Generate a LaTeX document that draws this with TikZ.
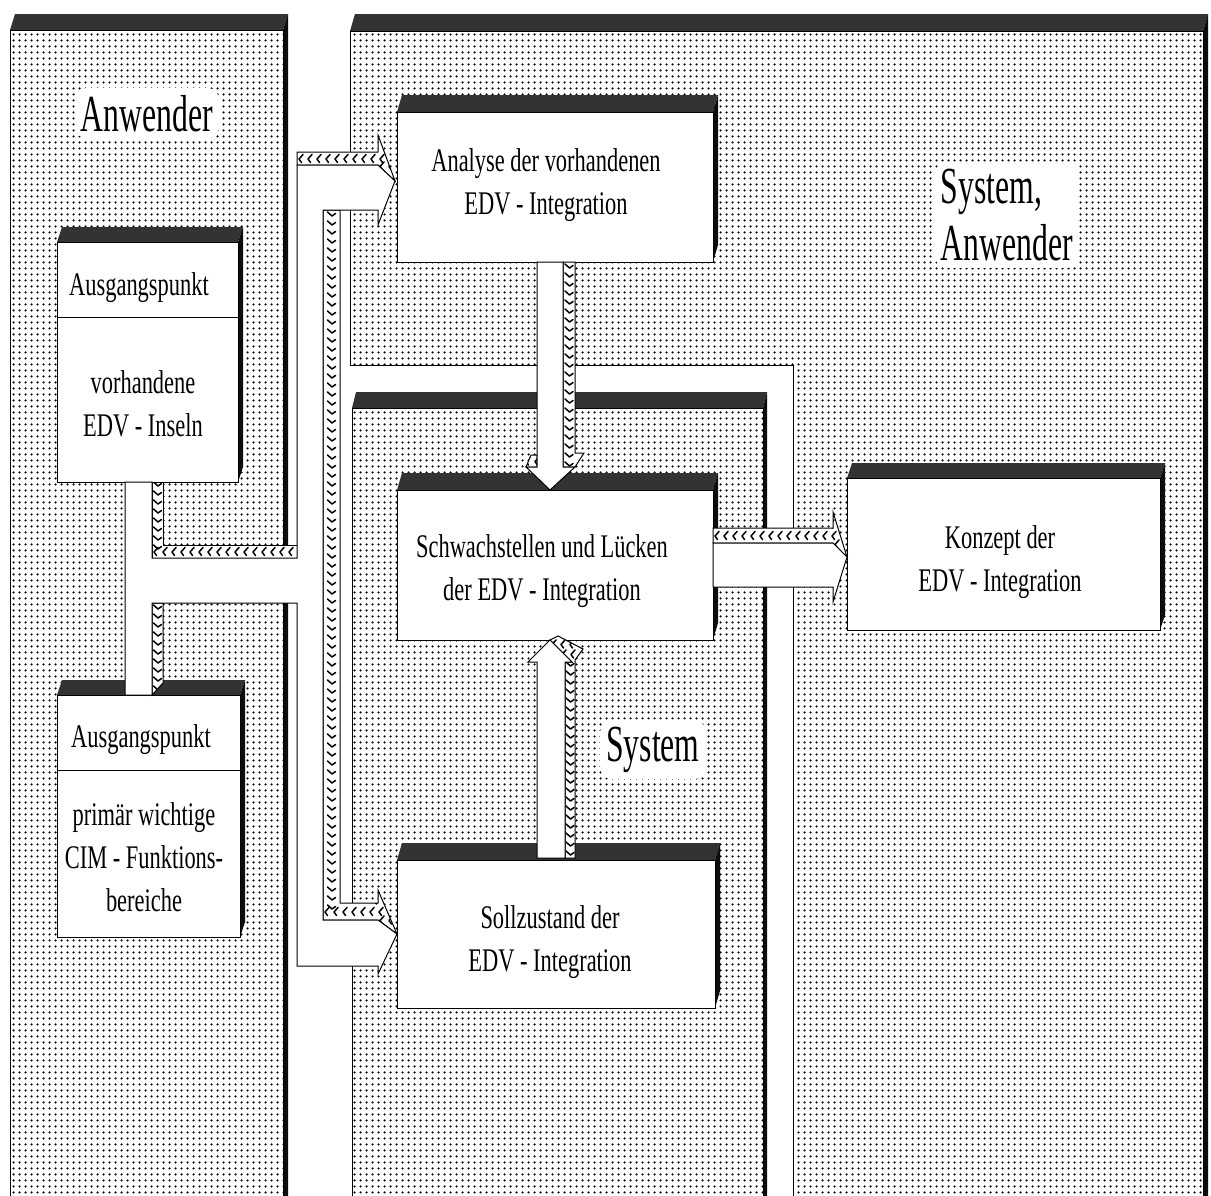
\documentclass[tikz,border=0pt]{standalone}
\usepackage{fontspec}
\setmainfont{Liberation Serif}
\newfontfamily\boxfamily{Liberation Serif}[FakeStretch=0.68]
\newfontfamily\labelfamily{Liberation Serif}[FakeStretch=0.61]
\usetikzlibrary{patterns,calc}

% fine dot screen used for the three areas
\pgfdeclarepatternformonly{stipple}{\pgfqpoint{0pt}{0pt}}{\pgfqpoint{5.5pt}{5.5pt}}{\pgfqpoint{5.5pt}{5.5pt}}{%
  \pgfpathcircle{\pgfqpoint{2.75pt}{2.75pt}}{1.35pt}\pgfusepath{fill}}

\tikzset{
  outline/.style={draw=black, line width=1pt, line join=miter},
  panelface/.style={outline, preaction={fill=white}, pattern=stipple},
  bandtop/.style={fill=black!80},
  bandside/.style={fill=black!95},
  boxface/.style={outline, fill=white, inner sep=0pt, outer sep=0pt, anchor=north west},
  pipe/.style={outline, fill=white},
  hatchstroke/.style={line width=1.5pt, line cap=round, line join=round},
  boxtext/.style={font=\boxfamily\fontsize{33}{43}\selectfont, align=center, inner sep=0pt},
  biglabel/.style={font=\labelfamily\fontsize{52}{57}\selectfont, align=left, fill=white,
    rounded corners=12pt, inner xsep=6pt, inner ysep=7pt},
}

% dark top band and right side of a raised block: left, top, right, bottom, shift, rise
\newcommand\extrude[6]{%
  \fill[bandtop] (#1,#2) -- ({#1+#5},{#2-#6}) -- ({#3+#5},{#2-#6}) -- (#3,#2) -- cycle;
  \fill[bandside] (#3,#2) -- ({#3+#5},{#2-#6}) -- ({#3+#5},{#4-#6}) -- (#3,#4) -- cycle;}

% row of small chevrons: from x #1 to x #2 on the line y #3
\newcommand\hmarks[3]{%
  \pgfmathtruncatemacro\hmcount{(#2-(#1))/9}%
  \foreach \k in {0,...,\hmcount}
    \draw[hatchstroke] ({#1+9*\k+6},{#3-4}) -- ({#1+9*\k+2},{#3+0.5}) -- ({#1+9*\k+4.5},{#3+4});}

% column of small chevrons: on the line x #1 from y #2 to y #3
\newcommand\vmarks[3]{%
  \pgfmathtruncatemacro\vmcount{(#3-(#2))/9}%
  \foreach \k in {0,...,\vmcount}
    \draw[hatchstroke] ({#1-4},{#2+9*\k+2}) -- ({#1+0.5},{#2+9*\k+6}) -- ({#1+4},{#2+9*\k+3.5});}

% hatched side face of a pipe: outline path, chevrons
\newcommand\hatched[2]{%
  \fill[white] #1;
  \begin{scope}\clip #1; #2\end{scope}
  \draw[outline] #1;}

\begin{document}
\begin{tikzpicture}[x=1pt,y=-1pt]
\useasboundingbox (0,0) rectangle (1211,1195);
\clip (0,0) rectangle (1211,1195);
\fill[white] (0,0) rectangle (1211,1195);

% ---------- areas ----------
\extrude{10}{30}{283}{1215}{5}{16}
\path[panelface] (10,30) rectangle (283,1215);
\extrude{350}{31}{1203}{1215}{5}{17}
\path[panelface] (350,31) -- (1203,31) -- (1203,1215) -- (793,1215) -- (793,365) -- (350,365) -- cycle;
\extrude{352}{408}{763}{1215}{4}{16}
\path[panelface] (352,408) rectangle (763,1215);

\node[biglabel, anchor=base] (anw) at (147,131) {Anwender};
\node[biglabel] (sysanw) at (1007,215) {System,\\Anwender};
\node[biglabel, anchor=base west] (sys) at (600,761) {System};

% ---------- boxes ----------
\extrude{57}{242}{238}{482}{5}{15}
\node[boxface, minimum width=181pt, minimum height=240pt] (ain) at (57,242) {};
\draw[outline] (57,317) -- (238,317);
\node[boxtext, anchor=base] (ainh) at (139,295) {Ausgangspunkt};
\node[boxtext] (aint) at (143,404) {vorhandene\\EDV - Inseln};

\extrude{57}{695}{240}{937}{5}{15}
\node[boxface, minimum width=183pt, minimum height=242pt] (prim) at (57,695) {};
\draw[outline] (57,770) -- (240,770);
\node[boxtext, anchor=base] (primh) at (141,747) {Ausgangspunkt};
\node[boxtext] (primt) at (144,857) {primär wichtige\\CIM - Funktions-\\bereiche};

\extrude{397}{112}{713}{262}{5}{17}
\node[boxface, minimum width=316pt, minimum height=150pt] (ana) at (397,112) {};
\node[boxtext] (anat) at (546,185) {Analyse der vorhandenen\\EDV - Integration};

\extrude{397}{490}{713}{640}{5}{17}
\node[boxface, minimum width=316pt, minimum height=150pt] (schw) at (397,490) {};
\node[boxtext] (schwt) at (542,571) {Schwachstellen und Lücken\\der EDV - Integration};

\extrude{397}{860}{715}{1008}{5}{17}
\node[boxface, minimum width=318pt, minimum height=148pt] (soll) at (397,860) {};
\node[boxtext] (sollt) at (550,942) {Sollzustand der\\EDV - Integration};

\extrude{847}{478}{1160}{630}{5}{15}
\node[boxface, minimum width=313pt, minimum height=152pt] (konz) at (847,478) {};
\node[boxtext] (konzt) at (1000,562) {Konzept der\\EDV - Integration};

% ---------- pipes ----------
% T piece below the upper left box
\hatched{(152,482) -- (163,482) -- (163,545) -- (297,545) -- (297,558) -- (152,558) -- cycle}
  {\vmarks{157.5}{480}{545}\hmarks{152}{297}{551.5}}
\hatched{(152,603) -- (163,603) -- (163,683) -- (152,695) -- cycle}
  {\vmarks{157.5}{603}{695}}
% upper branch into the analysis box
\hatched{(297,152) -- (378,152) -- (378,135) -- (395,181) -- (378,165) -- (297,165) -- cycle}
  {\hmarks{297}{378}{158.5}\hmarks{372}{395}{146}\hmarks{378}{395}{166}}
% side face of the vertical channel and lower branch
\hatched{(323,210) -- (340,210) -- (340,903) -- (378,903) -- (378,890) -- (397,934) -- (378,920) -- (323,920) -- cycle}
  {\vmarks{331.5}{210}{903}\hmarks{323}{378}{911.5}\hmarks{372}{397}{900}\hmarks{378}{397}{920}}
% front face of the whole channel
\path[pipe] (297,165) -- (378,165) -- (395,181) -- (378,225) -- (378,210) -- (323,210)
  -- (323,920) -- (378,920) -- (397,934) -- (378,974) -- (378,966) -- (297,966)
  -- (297,603) -- (152,603) -- (152,695) -- (125,695) -- (125,482) -- (152,482)
  -- (152,558) -- (297,558) -- cycle;

% analysis -> weak points
\hatched{(563,262) -- (575,262) -- (575,453) -- (584,453) -- (575,467) -- (563,467) -- cycle}
  {\vmarks{569}{262}{467}}
\hatched{(526,467) -- (531,455) -- (537,455) -- (537,467) -- cycle}
  {\hmarks{524}{540}{461}}
\path[pipe] (537,262) -- (563,262) -- (563,467) -- (575,467) -- (550,490) -- (526,467) -- (537,467) -- cycle;

% target state -> weak points
\hatched{(565,858) -- (575,858) -- (575,660) -- (583,649) -- (558,636) -- (550,640) -- (572,662) -- (565,662) -- cycle}
  {\vmarks{570}{660}{858}\hmarks{550}{585}{644}\hmarks{560}{585}{654}}
\path[pipe] (537,858) -- (537,662) -- (528,662) -- (550,640) -- (572,662) -- (565,662) -- (565,858) -- cycle;

% weak points -> concept
\hatched{(713,528) -- (833,528) -- (833,512) -- (847,557) -- (833,543) -- (713,543) -- cycle}
  {\hmarks{713}{833}{535.5}\hmarks{828}{847}{524}\hmarks{833}{847}{544}}
\path[pipe] (713,543) -- (833,543) -- (847,557) -- (833,602) -- (833,587) -- (713,587) -- cycle;
\end{tikzpicture}
\end{document}
